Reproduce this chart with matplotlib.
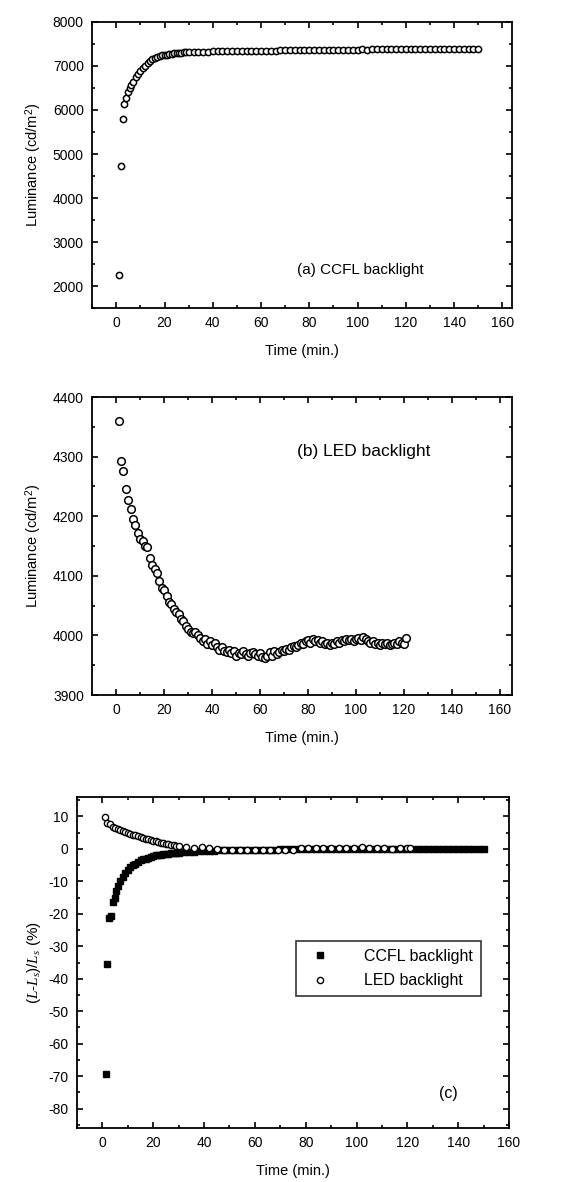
import matplotlib
matplotlib.use("Agg")
import matplotlib.pyplot as plt
from matplotlib.ticker import MultipleLocator

plt.rcParams['font.family'] = ['Liberation Sans', 'DejaVu Sans']
plt.rcParams['mathtext.fontset'] = 'custom'
plt.rcParams['mathtext.it'] = 'Liberation Serif:italic'
plt.rcParams['mathtext.rm'] = 'Liberation Sans'
plt.rcParams['axes.unicode_minus'] = False

# (a) CCFL backlight luminance
ccfl_t = [1.3, 2.0, 2.7, 3.4, 4.1, 4.8, 5.5, 6.2,
          7, 8, 9, 10, 11, 12, 13, 14, 15, 16, 17, 18, 19, 20,
          21, 22, 23, 24, 25, 26, 27, 28, 29, 30,
          32, 34, 36, 38, 40, 42, 44, 46, 48, 50, 52, 54, 56, 58, 60,
          62, 64, 66, 68, 70, 72, 74, 76, 78, 80, 82, 84, 86, 88, 90,
          92, 94, 96, 98, 100, 102, 104, 106, 108, 110, 112, 114, 116, 118, 120,
          122, 124, 126, 128, 130, 132, 134, 136, 138, 140, 142, 144, 146, 148, 150]
ccfl_lum = [2250, 4720, 5800, 6130, 6280, 6400, 6490, 6570,
            6640, 6740, 6810, 6880, 6950, 7010, 7060, 7110, 7150, 7180, 7200, 7220, 7240, 7250,
            7260, 7270, 7280, 7290, 7295, 7300, 7305, 7310, 7310, 7315,
            7320, 7320, 7325, 7325, 7330, 7330, 7335, 7335, 7340, 7340, 7340, 7345, 7345, 7345, 7350,
            7350, 7350, 7350, 7355, 7355, 7355, 7355, 7360, 7360, 7360, 7360, 7365, 7365, 7365, 7370,
            7365, 7370, 7370, 7370, 7370, 7375, 7370, 7375, 7375, 7375, 7375, 7380, 7375, 7380, 7380,
            7380, 7375, 7380, 7380, 7380, 7375, 7380, 7380, 7380, 7380, 7380, 7375, 7380, 7380, 7380]

# (b) LED backlight luminance
led_t = list(range(1, 122))
led_lum = [4360, 4292, 4276, 4245, 4228, 4212, 4196, 4186, 4172, 4162,
           4158, 4150, 4148, 4130, 4118, 4112, 4104, 4092, 4080, 4076,
           4066, 4056, 4052, 4044, 4040, 4036, 4028, 4024, 4016, 4010,
           4006, 4004, 4006, 4000, 3996, 3990, 3994, 3986, 3990, 3984,
           3988, 3980, 3976, 3980, 3974, 3972, 3976, 3970, 3974, 3966,
           3970, 3968, 3974, 3968, 3966, 3970, 3972, 3968, 3966, 3970,
           3964, 3962, 3966, 3972, 3966, 3974, 3968, 3972, 3976, 3974,
           3978, 3976, 3980, 3982, 3980, 3984, 3988, 3986, 3990, 3992,
           3988, 3994, 3990, 3992, 3988, 3990, 3986, 3988, 3984, 3988,
           3986, 3990, 3988, 3992, 3990, 3994, 3992, 3994, 3990, 3994,
           3996, 3992, 3998, 3994, 3990, 3988, 3990, 3986, 3988, 3984,
           3988, 3986, 3988, 3984, 3986, 3988, 3986, 3990, 3988, 3986,
           3996]

# (c) relative deviation from saturated luminance (%)
ccfl_dev = [-69.5, -35.5, -21.3, -20.6, -16.5, -15.0, -13.0, -11.5,
            -10.0, -8.5, -7.5, -6.5, -5.5, -5.0, -4.5, -4.0, -3.5, -3.2, -3.0, -2.7, -2.5, -2.2,
            -2.0, -1.9, -1.8, -1.7, -1.6, -1.5, -1.4, -1.3, -1.2, -1.1,
            -1.0, -0.9, -0.8, -0.7, -0.6, -0.5, -0.5, -0.4, -0.4, -0.4, -0.3, -0.3, -0.3, -0.3, -0.2,
            -0.2, -0.2, -0.2, -0.2, -0.1, -0.1, -0.1, -0.1, -0.1, -0.1, 0.0, 0.0, 0.0, 0.0, 0.0,
            0.0, 0.0, 0.0, 0.0, 0.0, 0.0, 0.0, 0.0, 0.0, 0.0, 0.0, 0.0, 0.0, 0.0, 0.0,
            0.0, 0.0, 0.0, 0.0, 0.0, 0.0, 0.0, 0.0, 0.0, 0.0, 0.0, 0.0, 0.0, 0.0, 0.0]
led_dev_t = [1, 2, 3, 4, 5, 6, 7, 8, 9, 10, 11, 12, 13, 14, 15, 16, 17, 18, 19, 20,
             21, 22, 23, 24, 25, 26, 27, 28, 29, 30,
             33, 36, 39, 42, 45, 48, 51, 54, 57, 60, 63, 66, 69, 72, 75,
             78, 81, 84, 87, 90, 93, 96, 99, 102, 105, 108, 111, 114, 117, 120, 121]
led_dev = [9.8, 8.1, 7.6, 6.9, 6.5, 6.1, 5.7, 5.4, 5.1, 4.8, 4.6, 4.4, 4.2, 3.9, 3.6,
           3.4, 3.2, 3.0, 2.7, 2.5, 2.3, 2.1, 1.9, 1.7, 1.6, 1.5, 1.3, 1.2, 1.0, 0.9,
           0.6, 0.4, 0.5, 0.3, -0.1, -0.2, -0.2, -0.2, -0.2, -0.2, -0.3, -0.2, -0.2, -0.2, -0.2,
           0.3, 0.4, 0.4, 0.3, 0.3, 0.4, 0.4, 0.4, 0.5, 0.4, 0.3, 0.3, 0.1, 0.3, 0.3, 0.4]

xticks = [0, 20, 40, 60, 80, 100, 120, 140, 160]


def style_axes(ax, xmax, ymajor, yminor):
    ax.set_xticks(xticks)
    ax.set_xlim(-10, xmax)
    ax.xaxis.set_minor_locator(MultipleLocator(10))
    ax.yaxis.set_major_locator(MultipleLocator(ymajor))
    ax.yaxis.set_minor_locator(MultipleLocator(yminor))
    ax.tick_params(which='both', direction='in', top=True, right=True, width=1.2, labelsize=10)
    ax.tick_params(which='major', length=4, pad=6)
    ax.tick_params(which='minor', length=2)
    for s in ax.spines.values():
        s.set_linewidth(1.3)
    ax.set_xlabel("Time (min.)", fontsize=10.5, labelpad=10)


fig = plt.figure(figsize=(5.62, 11.82), dpi=100)

# panel (a)
ax1 = fig.add_axes([0.164, 0.7394, 0.747, 0.242])
ax1.plot(ccfl_t, ccfl_lum, 'o', ms=4.5, mfc='white', mec='black', mew=1.1)
style_axes(ax1, 164, 1000, 500)
ax1.set_ylim(1500, 8000)
ax1.set_ylabel("Luminance (cd/m$^2$)", fontsize=10.5, labelpad=6)
ax1.text(0.487, 0.132, "(a) CCFL backlight", transform=ax1.transAxes,
         fontsize=11, va='center', ha='left')

# panel (b)
ax2 = fig.add_axes([0.164, 0.412, 0.747, 0.2521])
ax2.plot(led_t, led_lum, 'o', ms=5.5, mfc='white', mec='black', mew=1.1)
style_axes(ax2, 165, 100, 50)
ax2.set_ylim(3900, 4400)
ax2.set_ylabel("Luminance (cd/m$^2$)", fontsize=10.5, labelpad=6)
ax2.text(0.487, 0.816, "(b) LED backlight", transform=ax2.transAxes,
         fontsize=12.5, va='center', ha='left')

# panel (c)
ax3 = fig.add_axes([0.137, 0.0457, 0.7687, 0.280])
ax3.plot(ccfl_t, ccfl_dev, 's', ms=5, color='black', label="CCFL backlight")
ax3.plot(led_dev_t, led_dev, 'o', ms=4.5, mfc='white', mec='black', mew=1.0, label="LED backlight")
style_axes(ax3, 160, 10, 5)
ax3.set_ylim(-86, 16)
ax3.set_ylabel("$(L$-$L_s)/L_s$ (%)", fontsize=11, labelpad=4)
leg = ax3.legend(loc='upper left', bbox_to_anchor=(0.488, 0.59), fontsize=11.5,
                 frameon=True, fancybox=False, edgecolor='black', handletextpad=1.8,
                 borderpad=0.5, labelspacing=0.6)
leg.get_frame().set_linewidth(1.2)
ax3.text(0.86, 0.104, "(c)", transform=ax3.transAxes, fontsize=11.5, va='center', ha='center')

fig.savefig("out.png", dpi=100)
